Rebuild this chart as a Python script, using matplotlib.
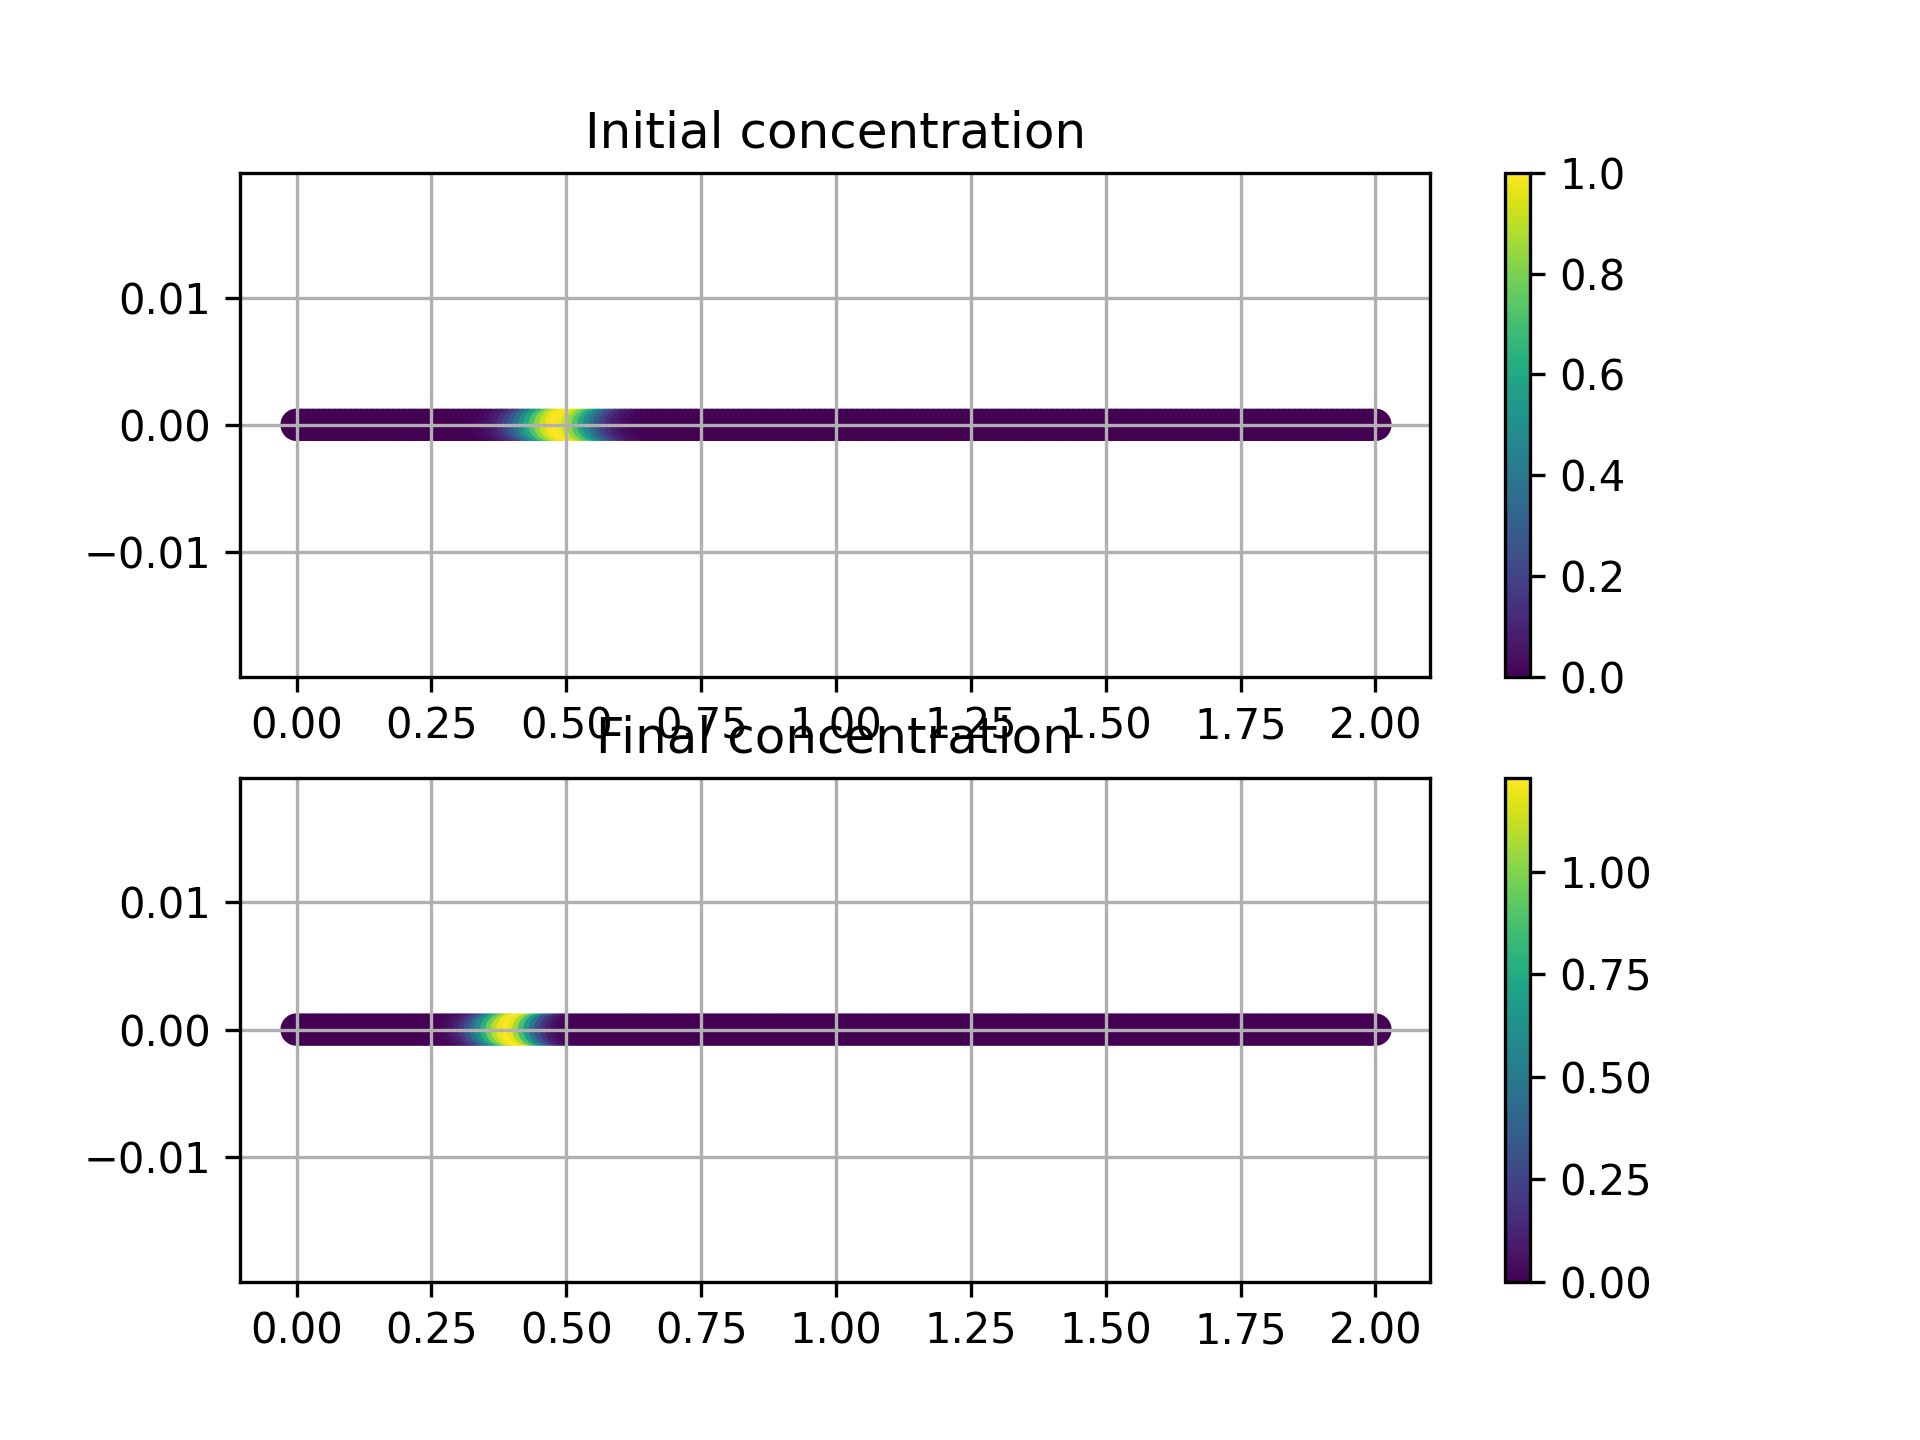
#----------------------------------------------------------------------
# Plots initial and final concentration along a 1D domain
#
#----------------------------------------------------------------------

import matplotlib

matplotlib.use('Agg')

import matplotlib.pyplot as plt
import numpy as np

# node positions along the domain
x_nodes = [0.00, 0.01, 0.02, 0.03, 0.04, 0.05, 0.06, 0.07, 0.08, 0.09,
           0.10, 0.11, 0.12, 0.13, 0.14, 0.15, 0.16, 0.17, 0.18, 0.19,
           0.20, 0.21, 0.22, 0.23, 0.24, 0.25, 0.26, 0.27, 0.28, 0.29,
           0.30, 0.31, 0.32, 0.33, 0.34, 0.35, 0.36, 0.37, 0.38, 0.39,
           0.40, 0.41, 0.42, 0.43, 0.44, 0.45, 0.46, 0.47, 0.48, 0.49,
           0.50, 0.51, 0.52, 0.53, 0.54, 0.55, 0.56, 0.57, 0.58, 0.59,
           0.60, 0.61, 0.62, 0.63, 0.64, 0.65, 0.66, 0.67, 0.68, 0.69,
           0.70, 0.71, 0.72, 0.73, 0.74, 0.75, 0.76, 0.77, 0.78, 0.79,
           0.80, 0.81, 0.82, 0.83, 0.84, 0.85, 0.86, 0.87, 0.88, 0.89,
           0.90, 0.91, 0.92, 0.93, 0.94, 0.95, 0.96, 0.97, 0.98, 0.99,
           1.00, 1.01, 1.02, 1.03, 1.04, 1.05, 1.06, 1.07, 1.08, 1.09,
           1.10, 1.11, 1.12, 1.13, 1.14, 1.15, 1.16, 1.17, 1.18, 1.19,
           1.20, 1.21, 1.22, 1.23, 1.24, 1.25, 1.26, 1.27, 1.28, 1.29,
           1.30, 1.31, 1.32, 1.33, 1.34, 1.35, 1.36, 1.37, 1.38, 1.39,
           1.40, 1.41, 1.42, 1.43, 1.44, 1.45, 1.46, 1.47, 1.48, 1.49,
           1.50, 1.51, 1.52, 1.53, 1.54, 1.55, 1.56, 1.57, 1.58, 1.59,
           1.60, 1.61, 1.62, 1.63, 1.64, 1.65, 1.66, 1.67, 1.68, 1.69,
           1.70, 1.71, 1.72, 1.73, 1.74, 1.75, 1.76, 1.77, 1.78, 1.79,
           1.80, 1.81, 1.82, 1.83, 1.84, 1.85, 1.86, 1.87, 1.88, 1.89,
           1.90, 1.91, 1.92, 1.93, 1.94, 1.95, 1.96, 1.97, 1.98, 1.99,
           2.00]

ZERO10 = [0.0, 0.0, 0.0, 0.0, 0.0, 0.0, 0.0, 0.0, 0.0, 0.0]

# concentration at t=0
c_initial = (ZERO10 + ZERO10 + ZERO10 +
             [0.0003, 0.0007, 0.0015, 0.003, 0.006, 0.011, 0.020, 0.034, 0.056, 0.089,
              0.135, 0.198, 0.278, 0.375, 0.487, 0.607, 0.726, 0.835, 0.923, 0.980,
              1.000, 0.980, 0.923, 0.835, 0.726, 0.607, 0.487, 0.375, 0.278, 0.198,
              0.135, 0.089, 0.056, 0.034, 0.020, 0.011, 0.006, 0.003, 0.0015, 0.0007,
              0.0003, 0.0, 0.0, 0.0, 0.0, 0.0, 0.0, 0.0, 0.0, 0.0] +
             ZERO10 * 12 + [0.0])

# concentration at end of run
c_final = (ZERO10 + ZERO10 +
           [0.0, 0.0, 0.0, 0.0, 0.0, 0.001, 0.002, 0.005, 0.010, 0.021,
            0.040, 0.072, 0.124, 0.200, 0.307, 0.443, 0.605, 0.781, 0.953, 1.098,
            1.196, 1.230, 1.184, 1.054, 0.869, 0.663, 0.469, 0.307, 0.186, 0.104,
            0.054, 0.026, 0.012, 0.005, 0.002, 0.001, 0.0, 0.0, 0.0, 0.0] +
           ZERO10 * 14 + [0.0])

titles = ['Initial concentration', 'Final concentration']


def plot_concentration():

    x = np.array(x_nodes)
    y = np.zeros_like(x)

    fig, axes = plt.subplots(2, 1, figsize=(6.4, 4.8))

    for ax, conc, title in zip(axes, [c_initial, c_final], titles):
        sc = ax.scatter(x, y, c=np.array(conc), cmap='viridis', s=46)
        ax.set_xlim(-0.105, 2.102)
        ax.set_ylim(-0.0198, 0.0198)
        ax.set_title(title)
        ax.grid(True)
        fig.colorbar(sc, ax=ax)

    fig.savefig('out.png', dpi=300)

    return


if __name__ == "__main__":

    plot_concentration()
